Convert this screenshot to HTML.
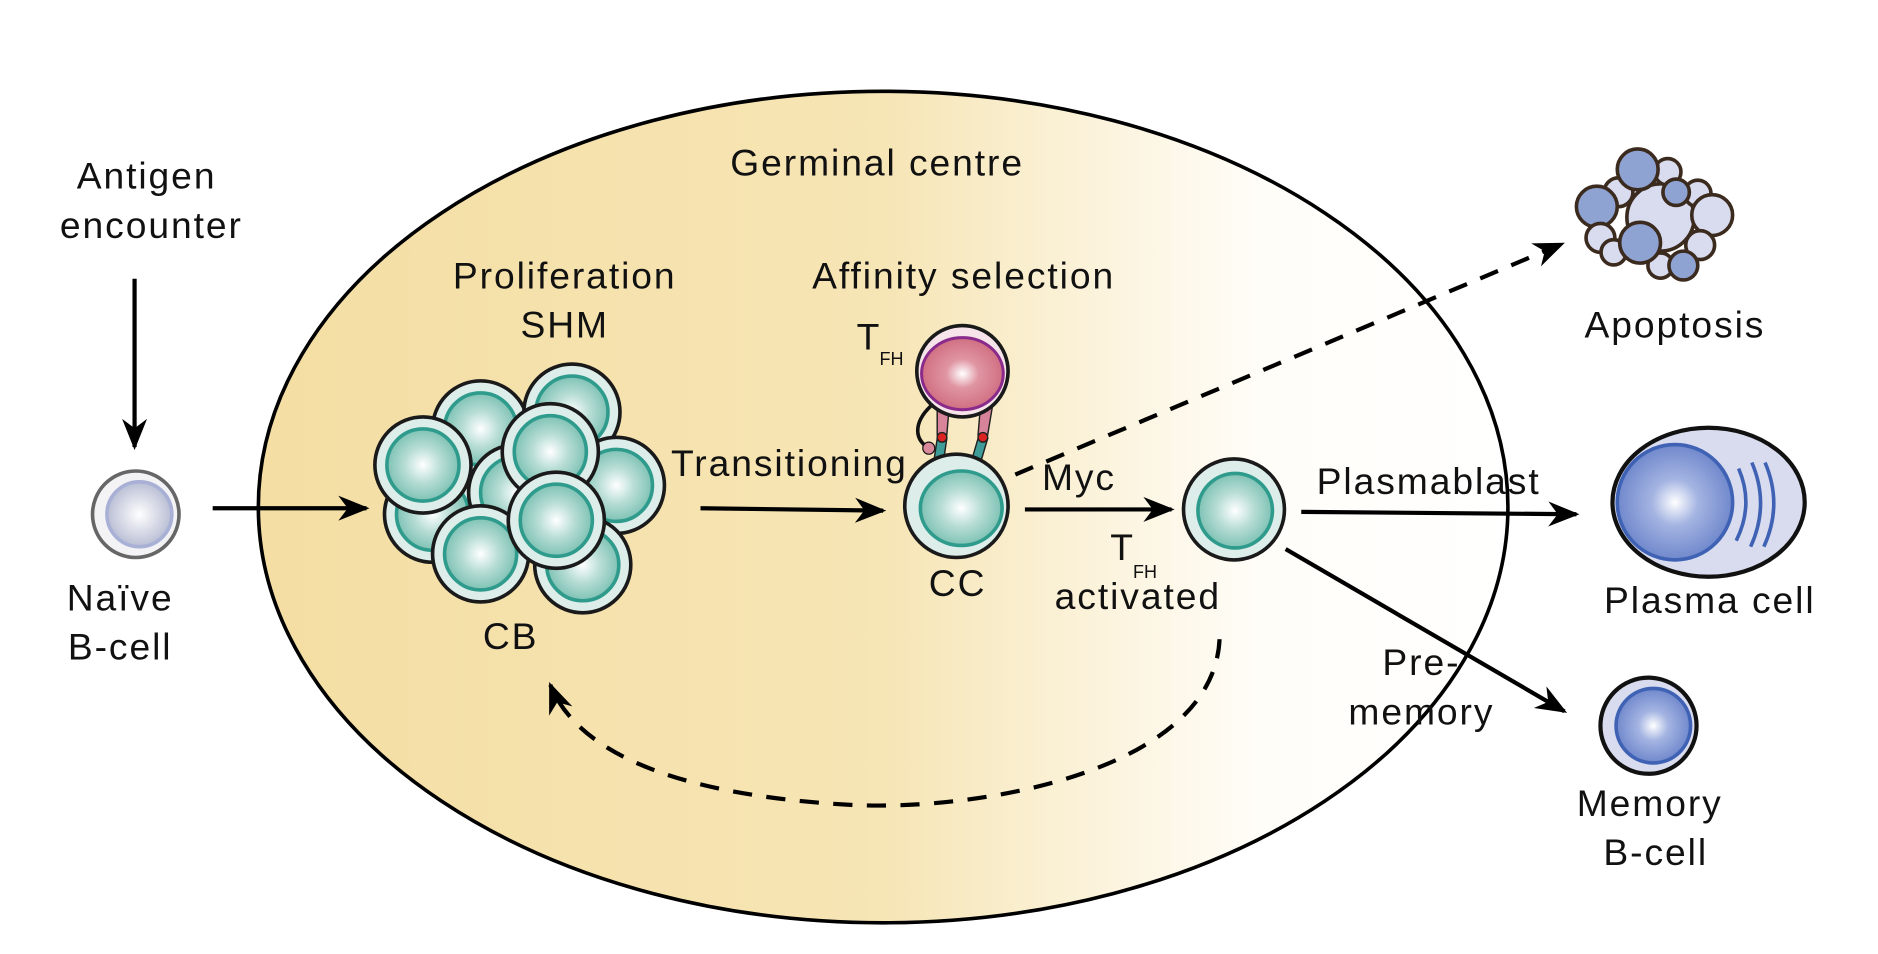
<!DOCTYPE html>
<html><head><meta charset="utf-8"><style>html,body{margin:0;padding:0;background:#fff}svg{display:block}text{font-family:"Liberation Sans",sans-serif;fill:#111}</style></head><body>
<svg width="1878" height="954" viewBox="0 0 1563 794" preserveAspectRatio="none" xmlns="http://www.w3.org/2000/svg">
<defs>
<linearGradient id="gcg" gradientUnits="userSpaceOnUse" x1="215" y1="0" x2="1255" y2="0">
<stop offset="0" stop-color="#f4dea3"/><stop offset="0.5" stop-color="#f6e5b5"/><stop offset="0.8" stop-color="#fffdf8"/><stop offset="1" stop-color="#fff"/></linearGradient>
<radialGradient id="teal" cx="0.5" cy="0.5" r="0.5"><stop offset="0" stop-color="#fff"/><stop offset="0.5" stop-color="#b7ddd5"/><stop offset="1" stop-color="#7fc2b5"/></radialGradient>
<radialGradient id="pink" cx="0.5" cy="0.5" r="0.5"><stop offset="0" stop-color="#fff"/><stop offset="0.4" stop-color="#e095a3"/><stop offset="1" stop-color="#d06f82"/></radialGradient>
<radialGradient id="blue" cx="0.5" cy="0.5" r="0.5"><stop offset="0" stop-color="#fff"/><stop offset="0.4" stop-color="#a4b4e2"/><stop offset="1" stop-color="#7088cc"/></radialGradient>
<radialGradient id="grey" cx="0.5" cy="0.5" r="0.5"><stop offset="0" stop-color="#fff"/><stop offset="1" stop-color="#b9bed4"/></radialGradient>
<marker id="ah2" viewBox="0 0 10 10" refX="9" refY="5" markerWidth="26" markerHeight="26" markerUnits="userSpaceOnUse" orient="auto"><path d="M0,1 L10,5 L0,9 L3,5z" fill="#000"/></marker>
<g id="cell"><circle r="40" fill="#dcedea" stroke="#1a1a1a" stroke-width="3"/><circle r="30" fill="url(#teal)" stroke="#2f9b8c" stroke-width="3"/></g>
</defs>
<ellipse cx="735" cy="422" rx="520" ry="346" fill="url(#gcg)" stroke="#000" stroke-width="3"/>
<g font-size="31" text-anchor="middle" letter-spacing="1.6">
<text x="122" y="157">Antigen</text><text x="126" y="198">encounter</text>
<text x="100" y="508">Naïve</text><text x="100" y="549">B-cell</text>
<text x="730" y="146">Germinal centre</text>
<text x="470" y="240">Proliferation</text><text x="470" y="281">SHM</text>
<text x="802" y="240">Affinity selection</text>
<text x="425" y="540">CB</text>
<text x="657" y="396">Transitioning</text>
<text x="797" y="496">CC</text>
<text x="898" y="408">Myc</text>
<text x="947" y="507">activated</text>
<text x="1189" y="411">Plasmablast</text>
<text x="1394" y="281">Apoptosis</text>
<text x="1423" y="510">Plasma cell</text>
<text x="1183" y="562">Pre-</text><text x="1183" y="603">memory</text>
<text x="1373" y="679">Memory</text><text x="1378" y="720">B-cell</text>
</g>
<text x="713" y="291" font-size="31">T</text><text x="732" y="304" font-size="15">FH</text>
<text x="924" y="466" font-size="31">T</text><text x="943" y="481" font-size="15">FH</text>
<g stroke="#000" stroke-width="3.5" fill="none">
<line x1="112" y1="232" x2="112" y2="372" marker-end="url(#ah2)"/>
<line x1="177" y1="423" x2="305" y2="423" marker-end="url(#ah2)"/>
<line x1="583" y1="423" x2="735" y2="425" marker-end="url(#ah2)"/>
<line x1="853" y1="424" x2="975" y2="424" marker-end="url(#ah2)"/>
<line x1="1083" y1="426" x2="1312" y2="428" marker-end="url(#ah2)"/>
<line x1="1070" y1="457" x2="1302" y2="592" marker-end="url(#ah2)"/>
<line x1="845" y1="395" x2="1300" y2="203" stroke-dasharray="16,12" marker-end="url(#ah2)"/>
<path d="M1015,532 C1010,640 820,675 710,670 C560,662 480,625 458,570" stroke-dasharray="16,12" marker-end="url(#ah2)"/>
</g>
<circle cx="113" cy="428" r="36" fill="#f3f3f6" stroke="#666" stroke-width="3"/>
<circle cx="116" cy="428" r="27" fill="url(#grey)" stroke="#a9b0d6" stroke-width="3"/>
<use href="#cell" x="400" y="357"/><use href="#cell" x="476" y="343"/>
<use href="#cell" x="360" y="428"/><use href="#cell" x="513" y="404"/>
<use href="#cell" x="485" y="470"/><use href="#cell" x="430" y="410"/>
<use href="#cell" x="352" y="387"/><use href="#cell" x="458" y="376"/>
<use href="#cell" x="400" y="461"/><use href="#cell" x="463" y="433"/>
<path d="M778,335 C760,350 760,365 773,373" stroke="#111" stroke-width="3" fill="none"/>
<circle cx="773" cy="373" r="5" fill="#d8899a" stroke="#111"/>
<g stroke="#222" stroke-width="1.2">
<path d="M780,338 L790,338 L788,362 L780,362z" fill="#d7849a"/>
<path d="M816,338 L826,338 L822,362 L814,362z" fill="#d7849a"/>
<path d="M780,365 L788,365 L784,392 L776,392z" fill="#3f9c98"/>
<path d="M814,365 L822,365 L814,392 L806,392z" fill="#3f9c98"/>
<circle cx="784" cy="364" r="4" fill="#d22"/><circle cx="818" cy="364" r="4" fill="#d22"/>
</g>
<circle cx="801" cy="309" r="38" fill="#f6e4ea" stroke="#1a1a1a" stroke-width="3"/>
<ellipse cx="801" cy="311" rx="34" ry="30" fill="url(#pink)" stroke="#8a2a8a" stroke-width="2.5"/>
<circle cx="796" cy="421" r="43" fill="#dcedea" stroke="#1a1a1a" stroke-width="3"/>
<ellipse cx="800" cy="423" rx="34" ry="31" fill="url(#teal)" stroke="#2f9b8c" stroke-width="3"/>
<circle cx="1027" cy="424" r="42" fill="#dcedea" stroke="#1a1a1a" stroke-width="3"/>
<circle cx="1028" cy="425" r="31" fill="url(#teal)" stroke="#2f9b8c" stroke-width="3"/>
<ellipse cx="1422" cy="418" rx="80" ry="62" fill="#d9dcee" stroke="#111" stroke-width="3.5"/>
<circle cx="1394" cy="418" r="48" fill="url(#blue)" stroke="#3f62b5" stroke-width="3"/>
<g stroke="#3f62b5" stroke-width="3" fill="none"><path d="M1447,390 Q1460,420 1445,450"/><path d="M1458,385 Q1473,420 1457,455"/><path d="M1469,385 Q1484,420 1468,455"/></g>
<circle cx="1372" cy="604" r="40" fill="#d9dcee" stroke="#111" stroke-width="3.5"/>
<circle cx="1376" cy="604" r="31" fill="url(#blue)" stroke="#3f62b5" stroke-width="3"/>
<g stroke="#3b2a1e" stroke-width="3">
<circle cx="1382" cy="181" r="28" fill="#d9dcee"/>
<circle cx="1388" cy="143" r="11" fill="#d9dcee"/><circle cx="1347" cy="160" r="12" fill="#d9dcee"/>
<circle cx="1329" cy="172" r="17" fill="#8fa3d3"/><circle cx="1363" cy="141" r="17" fill="#8fa3d3"/>
<circle cx="1413" cy="161" r="11" fill="#d9dcee"/><circle cx="1425" cy="179" r="17" fill="#d9dcee"/>
<circle cx="1395" cy="160" r="11" fill="#8fa3d3"/>
<circle cx="1332" cy="198" r="12" fill="#d9dcee"/><circle cx="1343" cy="210" r="10.5" fill="#d9dcee"/>
<circle cx="1382" cy="221" r="10.5" fill="#d9dcee"/><circle cx="1415" cy="204" r="12" fill="#d9dcee"/>
<circle cx="1365" cy="202" r="17" fill="#8fa3d3"/><circle cx="1401" cy="221" r="12" fill="#8fa3d3"/>
</g>
</svg>
</body></html>
